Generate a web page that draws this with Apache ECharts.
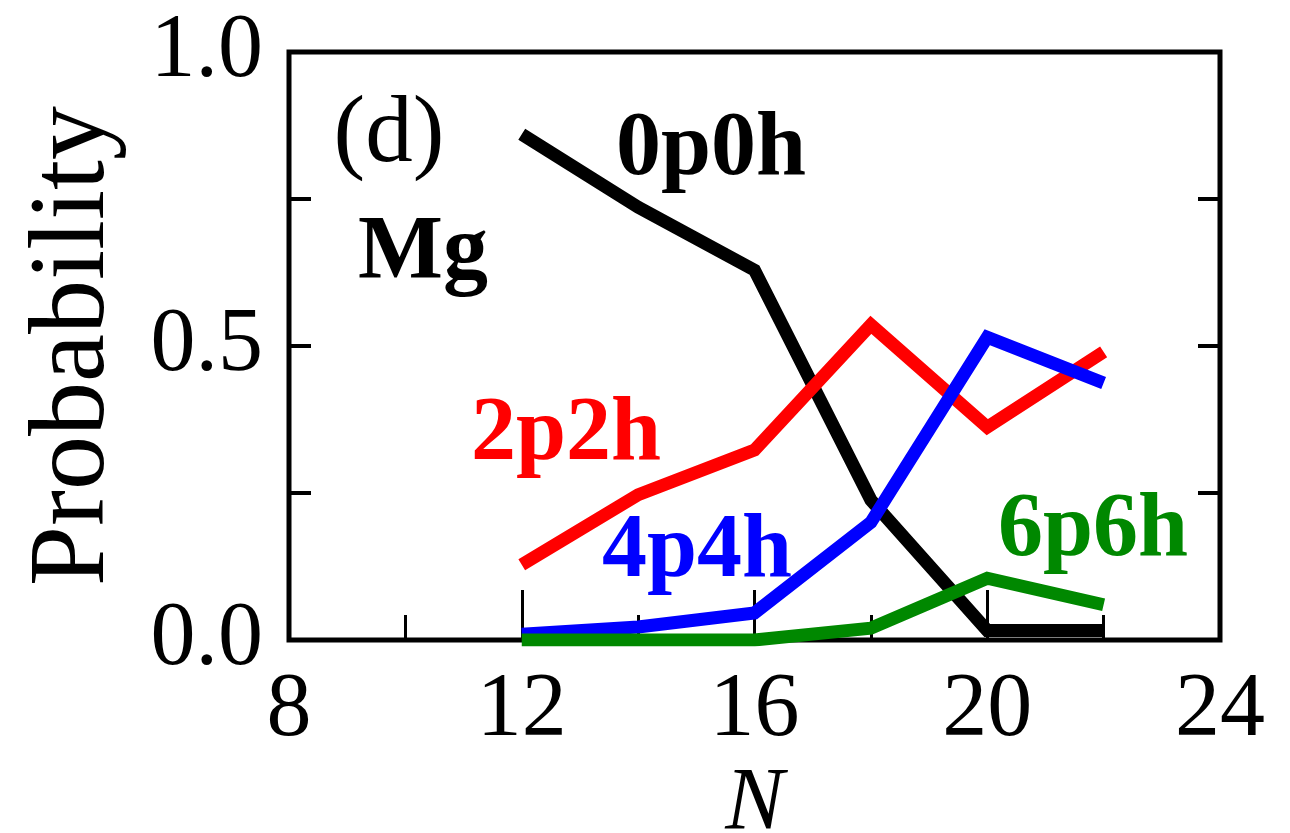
<!DOCTYPE html>
<html>
<head>
<meta charset="utf-8">
<title>Mg configuration probabilities</title>
<script src="https://cdn.jsdelivr.net/npm/echarts@6/dist/echarts.min.js"></script>
<style>
  html, body { margin: 0; padding: 0; background: #fff; }
  #chart { width: 1290px; height: 833px; }
</style>
</head>
<body>
<div id="chart"></div>
<script>
// Neutron number N
const neutronNumbers = [12, 14, 16, 18, 20, 22];

// Probability of each np-nh configuration
const prob0p0h = [0.860, 0.736, 0.629, 0.238, 0.016, 0.016];
const prob2p2h = [0.128, 0.247, 0.323, 0.536, 0.362, 0.490];
const prob4p4h = [0.010, 0.022, 0.046, 0.200, 0.515, 0.437];
const prob6p6h = [0.000, 0.000, 0.000, 0.020, 0.105, 0.060];

// Axis ticks
const xTickLabels = [8, 12, 16, 20, 24];
const yTickLabels = [0.0, 0.5, 1.0];

const FONT = '"Liberation Serif", "DejaVu Serif", serif';

function pairs(ys) {
  return neutronNumbers.map((n, i) => [n, ys[i]]);
}

function lineSeries(name, color, ys) {
  return {
    name: name,
    type: 'line',
    data: pairs(ys),
    symbol: 'none',
    lineStyle: { color: color, width: 13, cap: 'butt', join: 'miter' },
    silent: true,
    animation: false
  };
}

const chart = echarts.init(document.getElementById('chart'), null, { renderer: 'canvas' });

const frameColor = '#000';

chart.setOption({
  backgroundColor: '#fff',
  animation: false,
  grid: {
    left: 289, right: 70, top: 52, bottom: 193,
    outerBoundsMode: 'none',
    containLabel: false,
    show: true, borderColor: frameColor, borderWidth: 5, backgroundColor: 'transparent'
  },
  xAxis: [
    {
      type: 'value', min: 8, max: 24, interval: 4,
      name: 'N', nameLocation: 'middle', nameGap: 118,
      nameTextStyle: { fontFamily: FONT, fontSize: 88, fontStyle: 'italic', color: '#000' },
      axisLine: { show: false },
      axisTick: { show: true, inside: true, length: 50, lineStyle: { color: '#000', width: 3 } },
      axisLabel: {
        fontFamily: FONT, fontSize: 90, color: '#000', margin: 26,
        formatter: v => (xTickLabels.indexOf(v) >= 0 ? String(v) : '')
      },
      splitLine: { show: false }
    },
    {
      type: 'value', min: 8, max: 24, interval: 2, position: 'bottom',
      axisLine: { show: false },
      axisTick: { show: true, inside: true, length: 25, lineStyle: { color: '#000', width: 3 } },
      axisLabel: { show: false },
      splitLine: { show: false }
    }
  ],
  yAxis: [
    {
      type: 'value', min: 0, max: 1, interval: 0.25,
      name: 'Probability', nameLocation: 'middle', nameGap: 160,
      nameTextStyle: { fontFamily: FONT, fontSize: 108, color: '#000' },
      axisLine: { show: false },
      axisTick: { show: true, inside: true, length: 22, lineStyle: { color: '#000', width: 4 } },
      axisLabel: {
        fontFamily: FONT, fontSize: 90, color: '#000', margin: 26,
        formatter: v => {
          const hit = yTickLabels.find(t => Math.abs(t - v) < 1e-9);
          return hit === undefined ? '' : hit.toFixed(1);
        }
      },
      splitLine: { show: false }
    },
    {
      type: 'value', min: 0, max: 1, interval: 0.25, position: 'right',
      axisLine: { show: false },
      axisTick: { show: true, inside: true, length: 22, lineStyle: { color: '#000', width: 4 } },
      axisLabel: { show: false },
      splitLine: { show: false }
    }
  ],
  series: [
    lineSeries('0p0h', '#000000', prob0p0h),
    lineSeries('2p2h', '#ff0000', prob2p2h),
    lineSeries('4p4h', '#0000ff', prob4p4h),
    lineSeries('6p6h', '#008800', prob6p6h)
  ],
  graphic: [
    { type: 'text', x: 389, y: 136, style: { text: '(d)', font: '95px ' + FONT, fill: '#000', textAlign: 'center', textVerticalAlign: 'middle' } },
    { type: 'text', x: 423, y: 255, style: { text: 'Mg', font: 'bold 90px ' + FONT, fill: '#000', textAlign: 'center', textVerticalAlign: 'middle' } },
    { type: 'text', x: 711, y: 151, style: { text: '0p0h', font: 'bold 90px ' + FONT, fill: '#000', textAlign: 'center', textVerticalAlign: 'middle' } },
    { type: 'text', x: 566, y: 436, style: { text: '2p2h', font: 'bold 90px ' + FONT, fill: '#ff0000', textAlign: 'center', textVerticalAlign: 'middle' } },
    { type: 'text', x: 697, y: 553, style: { text: '4p4h', font: 'bold 90px ' + FONT, fill: '#0000ff', textAlign: 'center', textVerticalAlign: 'middle' } },
    { type: 'text', x: 1093, y: 532, style: { text: '6p6h', font: 'bold 90px ' + FONT, fill: '#008800', textAlign: 'center', textVerticalAlign: 'middle' } }
  ]
});
</script>
</body>
</html>
